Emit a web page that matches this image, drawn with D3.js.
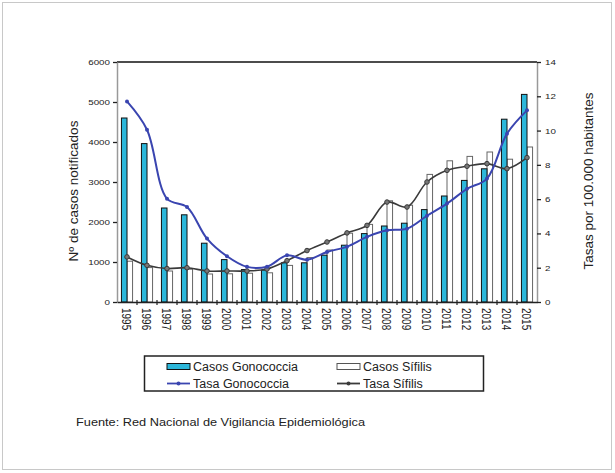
<!DOCTYPE html>
<html><head><meta charset="utf-8">
<script src="https://cdn.jsdelivr.net/npm/d3@7"></script>
<style>
body{margin:0;background:#fff}
svg{display:block}
text{font-family:"Liberation Sans",Arial,sans-serif;fill:#222}
</style>
</head><body>
<svg id="c" width="615" height="473"></svg>
<script>
const years = ["1995","1996","1997","1998","1999","2000","2001","2002","2003","2004","2005","2006","2007","2008","2009","2010","2011","2012","2013","2014","2015"];
const casosGonococcia = [4600,3960,2350,2180,1470,1060,810,800,980,980,1170,1420,1710,1900,1970,2310,2650,3040,3330,4570,5190];
const casosSifilis = [1020,860,775,820,700,705,720,730,915,1110,1300,1720,1940,2530,2420,3190,3530,3640,3750,3570,3875];
const tasaGonococcia = [11.7,10.05,6.03,5.54,3.7,2.67,2.05,2.06,2.72,2.47,2.92,3.23,3.8,4.18,4.28,5.03,5.74,6.6,7.2,9.82,11.18];
const tasaSifilis = [2.63,2.14,1.95,2.0,1.81,1.81,1.81,1.92,2.41,3.0,3.5,4.03,4.47,5.83,5.54,7.0,7.68,7.92,8.07,7.78,8.42];
const leftTicks = [0,1000,2000,3000,4000,5000,6000];
const rightTicks = [0,2,4,6,8,10,12,14];
const labels = {
  yLeft: "Nº de casos notificados",
  yRight: "Tasas por 100.000 habitantes",
  casosG: "Casos Gonococcia",
  casosS: "Casos Sífilis",
  tasaG: "Tasa Gonococcia",
  tasaS: "Tasa Sífilis",
  source: "Fuente: Red Nacional de Vigilancia Epidemiológica"
};

const C = {cyan:"#2db7da", blue:"#3a45b0", dark:"#3a3a3a"};
const L = 117, R = 537, T = 62, B = 302;
const svg = d3.select("#c");

// outer frame
svg.append("rect").attr("x",2.5).attr("y",2.5).attr("width",609).attr("height",467)
  .attr("fill","#fff").attr("stroke","#c8c8c8");

const x0 = d3.scaleBand().domain(years).range([L,R]);
const x1 = d3.scaleBand().domain(["g","s"]).range([0,x0.bandwidth()]).paddingInner(0).paddingOuter(0.8);
const yL = d3.scaleLinear().domain([0,6000]).range([B,T]);
const yR = d3.scaleLinear().domain([0,14]).range([B,T]);
const cx = d => x0(d) + x0.bandwidth()/2;

// top border
svg.append("line").attr("x1",L).attr("x2",R).attr("y1",T).attr("y2",T).attr("stroke","#111").attr("stroke-width",1.3);

// bars
svg.append("g").selectAll("rect").data(years).join("rect")
  .attr("x",(d)=>x0(d)+x1("s")).attr("width",x1.bandwidth())
  .attr("y",(d,i)=>yL(casosSifilis[i])).attr("height",(d,i)=>B-yL(casosSifilis[i]))
  .attr("fill","#fff").attr("stroke","#666").attr("stroke-width",1);
svg.append("g").selectAll("rect").data(years).join("rect")
  .attr("x",(d)=>x0(d)+x1("g")).attr("width",x1.bandwidth())
  .attr("y",(d,i)=>yL(casosGonococcia[i])).attr("height",(d,i)=>B-yL(casosGonococcia[i]))
  .attr("fill",C.cyan).attr("stroke","#111").attr("stroke-width",1);

// axes
const axL = svg.append("g").attr("transform",`translate(${L},0)`)
  .call(d3.axisLeft(yL).tickValues(leftTicks).tickSize(4).tickSizeOuter(0).tickFormat(d3.format("d")));
axL.select(".domain").attr("stroke","#999").attr("stroke-width",1.5);
axL.selectAll(".tick line").attr("stroke","#222").attr("stroke-width",1.3);
axL.selectAll(".tick text").attr("x",0).attr("dy","0.35em")
  .attr("transform","translate(-7,0) scale(1.4,1)").attr("font-size",7).attr("fill","#333");

const axR = svg.append("g").attr("transform",`translate(${R},0)`)
  .call(d3.axisRight(yR).tickValues(rightTicks).tickSize(4).tickSizeOuter(0));
axR.select(".domain").attr("stroke","#999").attr("stroke-width",1.5);
axR.selectAll(".tick line").attr("stroke","#222").attr("stroke-width",1.3);
axR.selectAll(".tick text").attr("x",0).attr("dy","0.35em")
  .attr("transform","translate(8,0) scale(1.4,1)").attr("font-size",7).attr("fill","#333");

const axB = svg.append("g").attr("transform",`translate(0,${B})`)
  .call(d3.axisBottom(x0).tickSize(0).tickSizeOuter(0));
axB.select(".domain").attr("stroke","#222").attr("stroke-width",1.3);
axB.selectAll(".tick text").attr("x",0).attr("y",0).attr("dy","0.35em")
  .attr("text-anchor","start")
  .attr("transform","translate(0,6) scale(1.3,1) rotate(90)").attr("font-size",10).attr("fill","#333");
// band boundary ticks
svg.append("g").selectAll("line").data(years.slice(1)).join("line")
  .attr("x1",d=>x0(d)).attr("x2",d=>x0(d)).attr("y1",B-2).attr("y2",B+3)
  .attr("stroke","#222").attr("stroke-width",1.2);

// lines
const curve = d3.curveCatmullRom.alpha(0.5);
const lineS = d3.line().x((d,i)=>cx(years[i])).y(d=>yR(d)).curve(curve);
svg.append("path").datum(tasaSifilis).attr("d",lineS).attr("fill","none")
  .attr("stroke",C.dark).attr("stroke-width",1.6);
svg.append("g").selectAll("circle").data(tasaSifilis).join("circle")
  .attr("cx",(d,i)=>cx(years[i])).attr("cy",d=>yR(d)).attr("r",2.3)
  .attr("fill","#777").attr("stroke",C.dark).attr("stroke-width",1);
svg.append("path").datum(tasaGonococcia).attr("d",lineS).attr("fill","none")
  .attr("stroke",C.blue).attr("stroke-width",2);
svg.append("g").selectAll("circle").data(tasaGonococcia).join("circle")
  .attr("cx",(d,i)=>cx(years[i])).attr("cy",d=>yR(d)).attr("r",2)
  .attr("fill",C.blue);

// axis titles
svg.append("text").attr("transform","translate(78,191) rotate(-90)").attr("text-anchor","middle")
  .attr("font-size",13.5).attr("fill","#333").text(labels.yLeft);
svg.append("text").attr("transform","translate(593,181) rotate(-90)").attr("text-anchor","middle")
  .attr("font-size",13.5).attr("fill","#333").text(labels.yRight);

// legend
const lg = svg.append("g");
lg.append("rect").attr("x",144.5).attr("y",356).attr("width",339).attr("height",35)
  .attr("fill","#fff").attr("stroke","#222").attr("stroke-width",1.5);
const items = [
  {t:labels.casosG, type:"bar", fill:C.cyan, stroke:"#111", x:167, y:366.5},
  {t:labels.casosS, type:"bar", fill:"#fff", stroke:"#555", x:337, y:366.5},
  {t:labels.tasaG, type:"line", stroke:C.blue, x:167, y:383.5},
  {t:labels.tasaS, type:"line", stroke:C.dark, x:337, y:383.5}
];
items.forEach(it=>{
  if(it.type==="bar"){
    lg.append("rect").attr("x",it.x).attr("y",it.y-3).attr("width",23).attr("height",6)
      .attr("fill",it.fill).attr("stroke",it.stroke).attr("stroke-width",1);
  } else {
    lg.append("line").attr("x1",it.x).attr("x2",it.x+23).attr("y1",it.y).attr("y2",it.y)
      .attr("stroke",it.stroke).attr("stroke-width",1.8);
    lg.append("circle").attr("cx",it.x+11.5).attr("cy",it.y).attr("r",2).attr("fill",it.stroke);
  }
  lg.append("text").attr("x",it.x+26).attr("y",it.y+4).attr("font-size",12.5).attr("fill","#333").text(it.t);
});

// source
svg.append("text").attr("x",76).attr("y",425.5).attr("font-size",11.5)
  .attr("textLength",289).attr("lengthAdjust","spacingAndGlyphs").attr("fill","#333").text(labels.source);
</script>
</body></html>
